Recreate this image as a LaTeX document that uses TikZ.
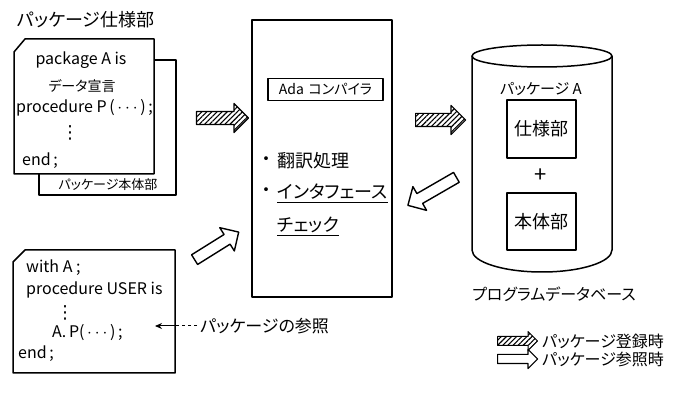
\documentclass[tikz,border=0pt]{standalone}
\usepackage{fontspec}
\newfontfamily\jp[RawFeature=+palt]{Noto Sans CJK JP}
\newfontfamily\dv{DejaVu Sans}
\usetikzlibrary{shapes.arrows,patterns.meta,arrows.meta}
\newcommand{\fs}[1]{\fontsize{#1}{#1}\selectfont}
\begin{document}
\begin{tikzpicture}[x=1pt,y=-1pt,font=\jp,line join=round,
  box/.style={draw,line width=1.5pt,fill=white},
  txt/.style={inner sep=0pt},
  hatcharrow/.style={single arrow,draw,line width=1.2pt,inner xsep=0pt,inner ysep=6pt,
    single arrow head extend=8pt,anchor=tail,
    pattern={Lines[angle=45,distance=3.6pt,line width=1.1pt]}},
  hollowarrow/.style={single arrow,draw,line width=1.4pt,fill=white,inner xsep=0pt,inner ysep=5pt,
    single arrow head extend=8pt,anchor=tail},
]
\useasboundingbox (0,0) rectangle (683,395);

% ---- package spec / body sheets
\node[txt,font=\jp\fs{18}] (title) at (86,20) {パッケージ仕様部};
\draw[box] (39,60) rectangle (176,195);
\draw[box] (14,52) -- (25,39) -- (154,39) -- (154,174) -- (14,174) -- cycle;
\node[txt,font=\jp\fs{13}] (bodylbl) at (108,185) {パッケージ本体部};
\node[txt,font=\jp\fs{16}] (pkgA) at (81,60) {package A is};
\node[txt,font=\jp\fs{14}] (decl) at (82,86) {データ宣言};
\node[txt,font=\jp\fs{16},anchor=west] (procP) at (16,108) {procedure P\,(\,$\cdots$\,)\,;};
\node[txt,font=\dv\fs{18}] (vd1) at (70,133) {⋮};
\node[txt,font=\jp\fs{16},anchor=west] (end1) at (22,161) {end\,;};

% ---- user program
\draw[box] (13,262) -- (25,250) -- (175,250) -- (175,373) -- (13,373) -- cycle;
\node[txt,font=\jp\fs{16},anchor=west] (withA) at (26,268) {with A ;};
\node[txt,font=\jp\fs{16},anchor=west] (procU) at (26,290) {procedure USER is};
\node[txt,font=\dv\fs{18}] (vd2) at (65,313) {⋮};
\node[txt,font=\jp\fs{16},anchor=west] (AP) at (52,333) {A.\,P(\,$\cdots$\,)\,;};
\node[txt,font=\jp\fs{16},anchor=west] (end2) at (18,354) {end\,;};

\node[txt,font=\jp\fs{17},anchor=west] (ref) at (200,326) {パッケージの参照};
\coordinate (edge) at (175,326);
\coordinate (tip) at (155,326);
\draw[line width=1pt,dash pattern=on 3pt off 3pt] ([xshift=-3pt]ref.west) -- (edge);
\draw[line width=1pt,-{Stealth[length=7pt,width=6pt]}] (edge) -- (tip);

% ---- compiler
\node[box,minimum width=140pt,minimum height=277pt] (comp) at (322,158.5) {};
\node[draw,line width=1.4pt,minimum width=115pt,minimum height=22pt,inner sep=0pt,font=\jp\fs{14}] (ada) at (325.5,89.5) {Ada\,\,コンパイラ};
\node[txt,font=\jp\fs{18}] (b1) at (266,161) {・};
\node[txt,font=\jp\fs{18},anchor=west] (trans) at (277,161) {翻訳処理};
\node[txt,font=\jp\fs{18}] (b2) at (266,192) {・};
\node[txt,font=\jp\fs{18},anchor=west] (ifc) at (277,192) {インタフェース};
\node[txt,font=\jp\fs{18},anchor=west] (chk) at (277,225) {チェック};
\draw[line width=1pt] ([yshift=-4pt]ifc.base west) -- ([yshift=-4pt]ifc.base east);
\draw[line width=1pt] ([yshift=-4pt]chk.base west) -- ([yshift=-4pt]chk.base east);

% ---- database cylinder
\draw[box] (472,56) -- (472,250) .. controls (472,262) and (503,272) .. (542,272)
  .. controls (581,272) and (612,262) .. (612,250) -- (612,56);
\draw[box] (542,56) ellipse [x radius=70pt,y radius=11pt];
\node[txt,font=\jp\fs{15}] (pkgAlbl) at (541,89) {パッケージ A};
\node[box,minimum width=69pt,minimum height=58pt,font=\jp\fs{18}] (spec) at (541.5,129) {仕様部};
\node[txt,font=\jp\fs{22}] (plus) at (541,176) {+};
\node[box,minimum width=69pt,minimum height=57pt,font=\jp\fs{18}] (body) at (541.5,221.5) {本体部};
\node[txt,font=\jp\fs{16}] (dblbl) at (554,294) {プログラムデータベース};

% ---- block arrows
\node[hatcharrow,minimum height=52pt] (h1) at (196,118) {};
\node[hatcharrow,minimum height=50pt] (h2) at (415,120) {};
\node[hollowarrow,minimum height=56pt,rotate=210] (r1) at (457,177) {};
\node[hollowarrow,minimum height=52pt,rotate=32] (r2) at (194,260) {};

% ---- legend
\node[hatcharrow,minimum height=40pt,inner ysep=4pt,single arrow head extend=5pt,line width=1pt] (lh) at (497,341) {};
\node[txt,font=\jp\fs{16},anchor=west] (lhtxt) at (542,341) {パッケージ登録時};
\node[hollowarrow,minimum height=40pt,inner ysep=4pt,single arrow head extend=5pt,line width=1.2pt] (lr) at (497,359) {};
\node[txt,font=\jp\fs{16},anchor=west] (lrtxt) at (542,359) {パッケージ参照時};
\end{tikzpicture}
\end{document}
